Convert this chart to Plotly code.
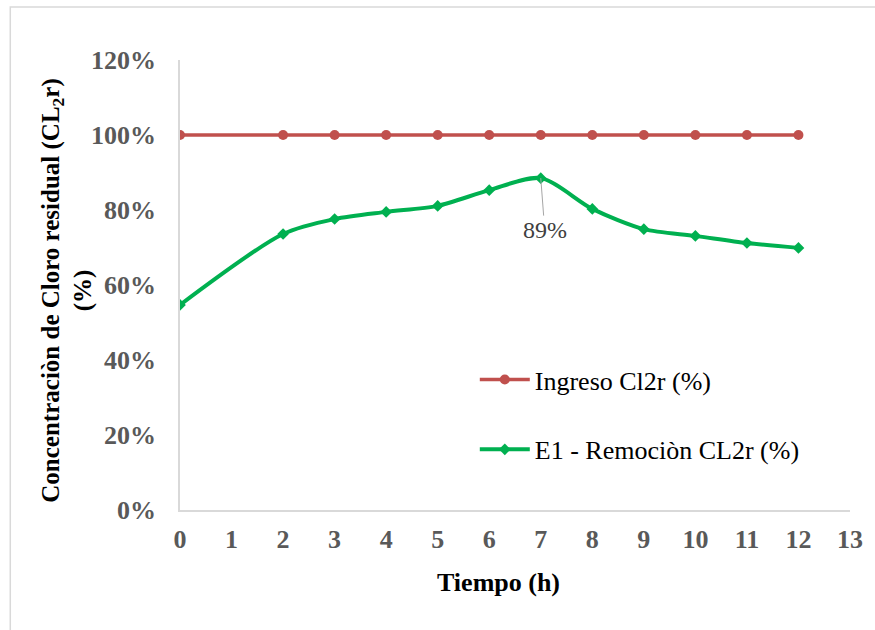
import plotly.graph_objects as go

# ---- data ----
tiempo_h = [0, 2, 3, 4, 5, 6, 7, 8, 9, 10, 11, 12]
ingreso_cl2r = [100, 100, 100, 100, 100, 100, 100, 100, 100, 100, 100, 100]
remocion_cl2r = [54.7, 73.6, 77.6, 79.5, 81.1, 85.3, 88.5, 80.3, 74.9, 73.1, 71.2, 69.9]
y_ticks = [0, 20, 40, 60, 80, 100, 120]
y_tick_labels = ["0%", "20%", "40%", "60%", "80%", "100%", "120%"]
x_ticks = list(range(0, 14))
serie_names = ["Ingreso Cl2r (%)", "E1 - Remociòn CL2r (%)"]
peak_label = "89%"

FONT = "Liberation Serif"

fig = go.Figure()
fig.add_trace(go.Scatter(
    x=tiempo_h, y=ingreso_cl2r, name=serie_names[0], mode="lines+markers",
    line=dict(color="#C0504D", width=3.5),
    marker=dict(symbol="circle", size=10, color="#C0504D"),
    legendgroup="a",
))
fig.add_trace(go.Scatter(
    x=tiempo_h, y=remocion_cl2r, name=serie_names[1], mode="lines+markers",
    line=dict(color="#00B050", width=4, shape="spline", smoothing=0.8),
    marker=dict(symbol="diamond", size=9, color="#00B050"),
    legendgroup="b",
))

peak_i = remocion_cl2r.index(max(remocion_cl2r))
fig.add_annotation(
    x=tiempo_h[peak_i], y=remocion_cl2r[peak_i], text=peak_label,
    showarrow=True, arrowhead=0, arrowwidth=1, arrowcolor="#A6A6A6",
    ax=4, ay=52, standoff=0,
    font=dict(family=FONT, size=24, color="#404040"),
)

# axis titles as annotations
fig.add_annotation(
    xref="paper", yref="paper", x=-0.1674, y=0.487,
    text="<b>Concentraciòn de Cloro residual (CL<sub>2</sub>r)<br>(%)</b>",
    textangle=-90, showarrow=False, xanchor="center", yanchor="middle",
    font=dict(family=FONT, size=25, color="#000000"),
)
fig.add_annotation(
    xref="paper", yref="paper", x=0.4756, y=-0.16,
    text="<b>Tiempo (h)</b>", showarrow=False, xanchor="center", yanchor="middle",
    font=dict(family=FONT, size=26, color="#000000"),
)

# outer chart border
fig.add_shape(type="rect", xref="paper", yref="paper",
              x0=-0.2533, x1=1.05, y0=-0.3, y1=1.1178,
              line=dict(color="#D9D9D9", width=1.5), fillcolor="rgba(0,0,0,0)")

fig.update_layout(
    width=875, height=630,
    margin=dict(l=180, r=20, t=60, b=120),
    paper_bgcolor="white", plot_bgcolor="white",
    showlegend=True,
    legend=dict(
        x=0.44, y=0.342, xanchor="left", yanchor="top",
        font=dict(family=FONT, size=26, color="#000000"),
        bgcolor="rgba(0,0,0,0)", tracegroupgap=33, traceorder="grouped",
        itemwidth=50,
    ),
    font=dict(family=FONT),
)
fig.update_xaxes(
    range=[0, 13], tickvals=x_ticks, showgrid=False, zeroline=False,
    showline=True, linecolor="#D9D9D9", linewidth=1.5, ticks="",
    tickfont=dict(family=FONT, size=26, color="#595959", weight="bold"),
    ticklabelstandoff=5,
)
fig.update_yaxes(
    range=[0, 120], tickvals=y_ticks, ticktext=y_tick_labels,
    showgrid=False, zeroline=False,
    showline=True, linecolor="#D9D9D9", linewidth=1.5, ticks="",
    tickfont=dict(family=FONT, size=26, color="#595959", weight="bold"),
    ticklabelstandoff=17,
)

fig.write_html("out.html")
